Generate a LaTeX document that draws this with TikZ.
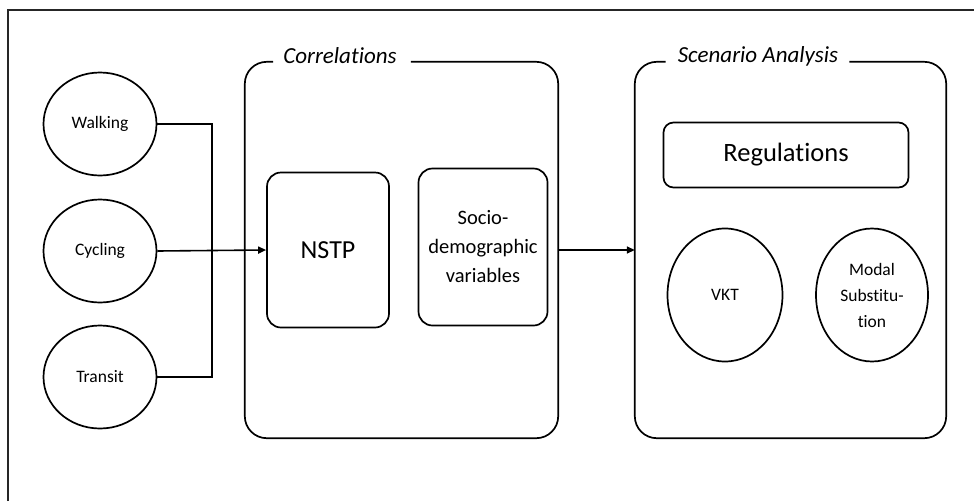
\documentclass[tikz,border=0pt]{standalone}
\usepackage{fontspec}
\setmainfont{Carlito}[Ligatures={NoCommon}]
\usetikzlibrary{arrows.meta,shapes.geometric}
\begin{document}
\begin{tikzpicture}[x=1pt,y=-1pt,
  outline/.style={line width=1.7pt,draw=black},
  mode/.style={ellipse,outline,minimum width=113pt,minimum height=103pt,inner sep=0pt,font=\fontsize{17.5}{21}\selectfont},
  inbox/.style={rounded corners=14pt,outline,inner sep=0pt,align=center},
  region/.style={draw=none,inner sep=0pt},
  title/.style={font=\itshape\fontsize{23}{27}\selectfont,inner sep=0pt},
  conn/.style={line width=1.6pt},
  arr/.style={conn,-{Triangle[length=8pt,width=7pt]}}
]
\useasboundingbox (0,0) rectangle (974,501);
% outer frame (cropped)
\draw[line width=1.2pt,draw=black!85] (8,501) -- (8,10) -- (974,10);

% left column
\node[mode] (walk) at (100,124) {Walking};
\node[mode] (cyc)  at (100,251) {Cycling};
\node[mode] (tran) at (100,377) {Transit};

% Correlations container
\node[region,minimum width=313pt,minimum height=376pt] (corr) at (401.5,250) {};
\node[title] (corrt) at (340,56) {Correlations};
\draw[outline,rounded corners=22pt] ([xshift=14pt]corrt.east |- corr.north)
  -- (corr.north east) -- (corr.south east) -- (corr.south west) -- (corr.north west) -- ([xshift=-10pt]corrt.west |- corr.north);

\node[inbox,minimum width=122pt,minimum height=155pt,font=\fontsize{26}{30}\selectfont] (nstp) at (328,250) {NSTP};
\node[inbox,minimum width=129pt,minimum height=157pt,font=\fontsize{20.5}{29}\selectfont] (socio) at (483,247) {Socio-\\demographic\\variables};

% Scenario container
\node[region,minimum width=311pt,minimum height=376pt] (scen) at (790.5,250) {};
\node[title] (scent) at (758,56) {Scenario Analysis};
\draw[outline,rounded corners=22pt] ([xshift=11pt]scent.east |- scen.north)
  -- (scen.north east) -- (scen.south east) -- (scen.south west) -- (scen.north west) -- ([xshift=-12pt]scent.west |- scen.north);

\node[inbox,rounded corners=10pt,minimum width=245pt,minimum height=65pt,font=\fontsize{26.5}{30}\selectfont] (reg) at (786,155) {Regulations};
\node[mode,minimum width=115pt,minimum height=133pt] (vkt) at (725,295) {VKT};
\node[mode,minimum width=112pt,minimum height=133pt,align=center,font=\fontsize{17.5}{26}\selectfont] (modal) at (872,295) {Modal\\Substitu-\\tion};

% connectors
\coordinate (j) at (212,251);
\draw[conn] (walk.east) -| (j);
\draw[conn] (tran.east) -| (j);
\draw[arr] (cyc.east) -- (nstp.west);
\draw[arr] (corr.east) -- (scen.west);
\end{tikzpicture}
\end{document}
